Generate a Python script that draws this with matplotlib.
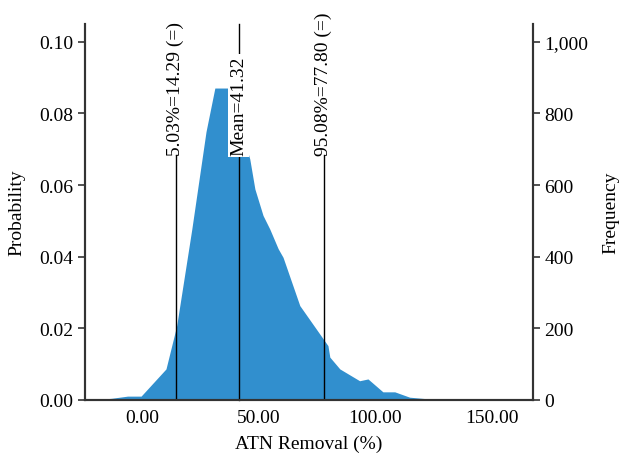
import matplotlib
matplotlib.use("Agg")
import matplotlib.pyplot as plt
from matplotlib.ticker import FuncFormatter

plt.rcParams['font.family'] = ['Liberation Serif', 'DejaVu Serif']

# Data
removal = [-24.7, -20.0, -13.2, -6.4, -0.6, 10.1, 14.7, 21.2, 27.3, 28.7, 31.1, 37.1,
           46.1, 48.3, 51.8, 54.7, 58.3, 60.4, 67.6, 79.7, 80.5, 84.8, 93.3,
           96.9, 103.3, 108.4, 114.8, 123.4, 140.0]
probability = [0.0, 0.0, 0.0004, 0.001, 0.001, 0.0086, 0.0207, 0.0477, 0.0749, 0.0794,
               0.0871, 0.0871, 0.0673, 0.0589, 0.0515, 0.0477, 0.0422, 0.0398,
               0.0263, 0.0151, 0.0119, 0.0086, 0.0053, 0.0058, 0.0022, 0.0022,
               0.0007, 0.0002, 0.0]
marker_values = [14.29, 41.32, 77.80]
marker_labels = ["5.03%=14.29 (=)", "Mean=41.32", "95.08%=77.80 (=)"]
x_ticks = [0, 50, 100, 150]
y_ticks = [0.0, 0.02, 0.04, 0.06, 0.08, 0.10]
freq_ticks = [0, 200, 400, 600, 800, 1000]

fig = plt.figure(figsize=(6.19, 4.60), dpi=100)
ax = fig.add_axes([0.1373, 0.1289, 0.8603 - 0.1373, 0.9457 - 0.1289])

ax.fill_between(removal, probability, 0, color='#318fce', linewidth=0, zorder=1)

ax.set_xlim(-24.7, 167.6)
ax.set_ylim(0, 0.105)

line_top = 0.0683
for i, (v, lab) in enumerate(zip(marker_values, marker_labels)):
    if i == 1:
        ax.plot([v, v], [0, 0.105], color='black', lw=1.0, zorder=3, clip_on=False)
        ax.text(v, line_top, lab, rotation=90, ha='center', va='bottom', fontsize=14,
                zorder=4, bbox=dict(facecolor='white', edgecolor='none', pad=1.5))
    else:
        ax.plot([v, v], [0, line_top], color='black', lw=1.0, zorder=3)
        ax.text(v, line_top, lab, rotation=90, ha='center', va='bottom', fontsize=14,
                zorder=4, clip_on=False)

ax.set_xticks(x_ticks)
ax.set_xticklabels([f"{t:.2f}" for t in x_ticks])
ax.set_yticks(y_ticks)
ax.yaxis.set_major_formatter(FuncFormatter(lambda v, p: f"{v:.2f}"))
ax.tick_params(axis='x', length=0, labelsize=14, pad=7)
ax.tick_params(axis='y', direction='out', length=5, width=1.2, labelsize=14, color='#333333')
ax.set_xlabel("ATN Removal (%)", fontsize=14, labelpad=6)
ax.set_ylabel("Probability", fontsize=14, labelpad=10)

for s in ['top']:
    ax.spines[s].set_visible(False)
for s in ['left', 'bottom', 'right']:
    ax.spines[s].set_color('#333333')
    ax.spines[s].set_linewidth(1.5)

ax2 = ax.twinx()
ax2.set_ylim(0, 1050)
ax2.set_yticks(freq_ticks)
ax2.yaxis.set_major_formatter(FuncFormatter(lambda v, p: f"{int(v):,}"))
ax2.tick_params(axis='y', direction='out', length=5, width=1.2, labelsize=14, color='#333333')
ax2.set_ylabel("Frequency", fontsize=14, labelpad=10)
ax2.spines['top'].set_visible(False)
for s in ['left', 'bottom', 'right']:
    ax2.spines[s].set_color('#333333')
    ax2.spines[s].set_linewidth(1.5)

fig.savefig("out.png", dpi=100)
